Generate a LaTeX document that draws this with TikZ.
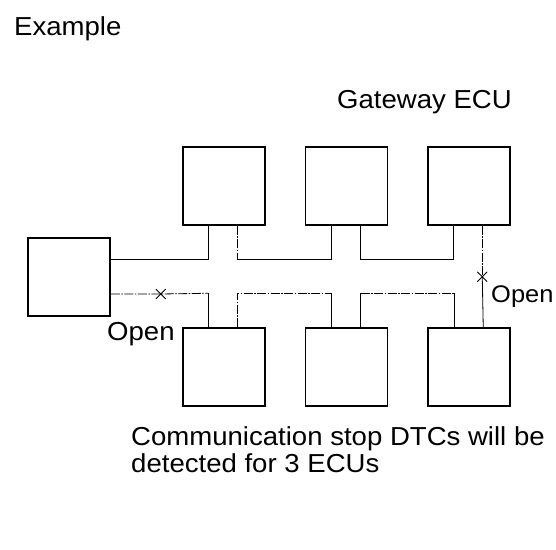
\documentclass[tikz,border=0pt]{standalone}
\usepackage{fontspec}
\setmainfont{Liberation Sans}[FakeStretch=1.06]
\usepackage{tikz}
\usetikzlibrary{calc}
\usetikzlibrary{shapes.misc}
\tikzstyle{box} = [rectangle, minimum width = 82pt, minimum height = 78pt, draw = black, line width = 1.5pt]
\tikzstyle{bus} = [line width = 0.8pt]
\tikzstyle{busdash} = [line width = 0.8pt, dash pattern = on 9pt off 1.5pt on 1.5pt off 1.5pt]
\tikzstyle{open} = [draw, cross out, minimum size = 9pt, inner sep = 0pt, line width = 0.8pt]
\tikzstyle{label} = [inner sep = 0pt, font = \fontsize{26}{27.5}\selectfont]

\begin{document}
\begin{tikzpicture}[x=1pt, y=1pt, node distance=122.5pt]
	\useasboundingbox (0,0) rectangle (556,-549);
	\node (ex) [label, anchor=base west] at (14,-35) {Example};
	\node (gwlabel) [label, anchor=base west] at (337,-108) {Gateway ECU};
	% ECUs
	\node (ecu) [box] at (69,-277) {};
	\node (gw1) [box] at (224,-186) {};
	\node (gw2) [box, right of=gw1] {};
	\node (gw3) [box, right of=gw2] {};
	\node (ecu1) [box] at (224,-367) {};
	\node (ecu2) [box, right of=ecu1] {};
	\node (ecu3) [box, right of=ecu2] {};
	% upper line
	\draw [bus] ($(ecu.east)+(0,18)$) -| ($(gw1.south west)+(26,0)$);
	\draw [busdash] ($(gw1.south west)+(55,0)$) -- ($(gw1.south west)+(55,-34)$);
	\draw [bus] ($(gw1.south west)+(55,-34)$) -| ($(gw2.south west)+(27,0)$);
	\draw [bus] ($(gw2.south west)+(56,0)$) |- ($(gw3.south west)+(26,-34)$) -- ($(gw3.south west)+(26,0)$);
	% open on the right
	\coordinate (openr) at ($(gw3.south west)+(55,-51)$);
	\draw [busdash] ($(gw3.south west)+(55,0)$) -- (openr);
	\draw [bus] (openr) -- ($(ecu3.north west)+(56,0)$);
	\node (xr) [open] at (openr) {};
	% lower line
	\coordinate (openl) at ($(ecu.east)+(50,-17)$);
	\draw [busdash] ($(ecu.east)+(0,-17)$) -- (openl) -- ($(ecu1.north west)+(26,34)$);
	\draw [bus] ($(ecu1.north west)+(26,34)$) -- ($(ecu1.north west)+(26,0)$);
	\node (xl) [open] at (openl) {};
	\draw [busdash] ($(ecu1.north west)+(55,0)$) |- ($(ecu2.north west)+(27,34)$);
	\draw [bus] ($(ecu2.north west)+(27,34)$) -- ($(ecu2.north west)+(27,0)$);
	\draw [bus] ($(ecu2.north west)+(56,0)$) -- ($(ecu2.north west)+(56,34)$);
	\draw [busdash] ($(ecu2.north west)+(56,34)$) -- ($(ecu3.north west)+(27,34)$);
	\draw [bus] ($(ecu3.north west)+(27,34)$) -- ($(ecu3.north west)+(27,0)$);
	% labels
	\node (openlabl) [label, anchor=base west] at (107,-340) {Open};
	\node (openlabr) [label, anchor=base west, font=\fontsize{24}{27}\selectfont] at (491,-302) {Open};
	\node (dtc) [label, anchor=north west, align=left] at (131,-426) {Communication stop DTCs will be\\detected for 3 ECUs};
\end{tikzpicture}
\end{document}
